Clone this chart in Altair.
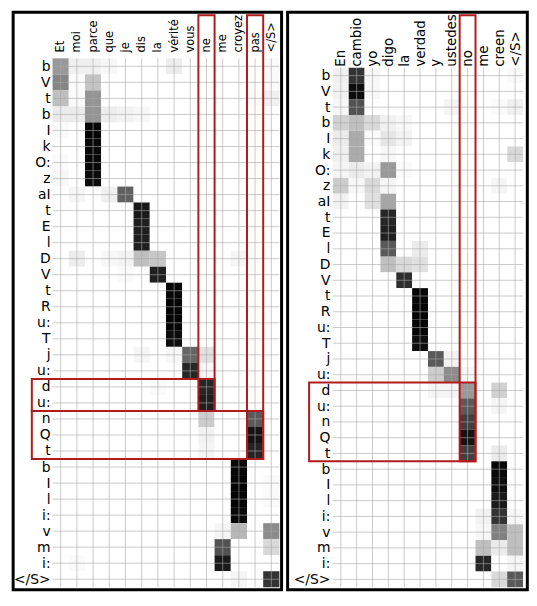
import altair as alt
import pandas as pd

# ---------------- data ----------------
fr_words = ["Et", "moi", "parce", "que", "je", "dis", "la", "vérité", "vous",
            "ne", "me", "croyez", "pas", "</S>"]
es_words = ["En", "cambio", "yo", "digo", "la", "verdad", "y", "ustedes",
            "no", "me", "creen", "</S>"]
phones = ["b", "V", "t", "b", "I", "k", "O:", "z", "aI", "t", "E", "l", "D",
          "V", "t", "R", "u:", "T", "j", "u:", "d", "u:", "n", "Q", "t", "b",
          "I", "l", "i:", "v", "m", "i:", "</S>"]

#            Et   moi  parce que  je   dis  la   vér  vous ne   me   croy pas  </S>
fr_attn = [
    [0.40, 0.06, 0.06, 0.03, 0.00, 0.00, 0.00, 0.07, 0.00, 0.00, 0.00, 0.00, 0.00, 0.02],
    [0.48, 0.02, 0.23, 0.00, 0.00, 0.00, 0.00, 0.00, 0.00, 0.00, 0.00, 0.00, 0.00, 0.02],
    [0.25, 0.02, 0.42, 0.00, 0.00, 0.00, 0.00, 0.00, 0.00, 0.00, 0.00, 0.00, 0.02, 0.06],
    [0.08, 0.08, 0.42, 0.07, 0.05, 0.03, 0.00, 0.00, 0.00, 0.00, 0.00, 0.00, 0.00, 0.00],
    [0.02, 0.00, 0.98, 0.00, 0.00, 0.00, 0.00, 0.00, 0.00, 0.00, 0.00, 0.00, 0.00, 0.00],
    [0.00, 0.00, 0.97, 0.00, 0.00, 0.00, 0.00, 0.00, 0.00, 0.00, 0.00, 0.00, 0.00, 0.00],
    [0.02, 0.00, 0.97, 0.00, 0.00, 0.00, 0.00, 0.00, 0.00, 0.00, 0.00, 0.00, 0.00, 0.00],
    [0.03, 0.00, 0.95, 0.00, 0.00, 0.00, 0.00, 0.00, 0.00, 0.00, 0.00, 0.00, 0.00, 0.00],
    [0.00, 0.04, 0.00, 0.06, 0.62, 0.00, 0.00, 0.00, 0.00, 0.00, 0.00, 0.00, 0.00, 0.00],
    [0.00, 0.00, 0.00, 0.00, 0.00, 0.90, 0.00, 0.00, 0.00, 0.00, 0.00, 0.00, 0.00, 0.00],
    [0.00, 0.00, 0.00, 0.00, 0.00, 0.88, 0.00, 0.00, 0.00, 0.00, 0.00, 0.00, 0.00, 0.00],
    [0.00, 0.00, 0.00, 0.00, 0.00, 0.88, 0.00, 0.00, 0.00, 0.00, 0.00, 0.00, 0.00, 0.00],
    [0.00, 0.07, 0.00, 0.03, 0.05, 0.25, 0.22, 0.00, 0.00, 0.00, 0.00, 0.04, 0.00, 0.00],
    [0.00, 0.00, 0.00, 0.00, 0.02, 0.00, 0.88, 0.00, 0.00, 0.00, 0.00, 0.00, 0.00, 0.00],
    [0.00, 0.00, 0.00, 0.00, 0.00, 0.00, 0.00, 0.97, 0.00, 0.00, 0.00, 0.00, 0.00, 0.00],
    [0.00, 0.00, 0.00, 0.00, 0.00, 0.00, 0.00, 0.98, 0.00, 0.00, 0.00, 0.00, 0.00, 0.00],
    [0.00, 0.00, 0.00, 0.00, 0.00, 0.00, 0.00, 0.98, 0.00, 0.00, 0.00, 0.00, 0.00, 0.00],
    [0.00, 0.00, 0.00, 0.00, 0.00, 0.00, 0.00, 0.95, 0.00, 0.00, 0.00, 0.00, 0.00, 0.00],
    [0.00, 0.00, 0.00, 0.00, 0.00, 0.04, 0.00, 0.03, 0.60, 0.12, 0.00, 0.00, 0.00, 0.00],
    [0.00, 0.00, 0.00, 0.00, 0.00, 0.00, 0.00, 0.00, 0.85, 0.03, 0.00, 0.00, 0.00, 0.00],
    [0.00, 0.00, 0.00, 0.00, 0.00, 0.00, 0.02, 0.00, 0.00, 0.85, 0.00, 0.00, 0.00, 0.00],
    [0.00, 0.00, 0.00, 0.00, 0.00, 0.00, 0.00, 0.00, 0.00, 0.88, 0.00, 0.00, 0.00, 0.00],
    [0.00, 0.00, 0.00, 0.00, 0.00, 0.00, 0.00, 0.00, 0.00, 0.20, 0.00, 0.00, 0.65, 0.00],
    [0.00, 0.00, 0.00, 0.00, 0.00, 0.00, 0.00, 0.00, 0.00, 0.05, 0.00, 0.00, 0.92, 0.00],
    [0.00, 0.00, 0.00, 0.00, 0.00, 0.00, 0.00, 0.00, 0.00, 0.04, 0.00, 0.00, 0.86, 0.00],
    [0.00, 0.00, 0.00, 0.00, 0.00, 0.00, 0.00, 0.00, 0.00, 0.00, 0.00, 0.97, 0.00, 0.00],
    [0.00, 0.00, 0.00, 0.00, 0.00, 0.00, 0.00, 0.00, 0.00, 0.00, 0.00, 0.98, 0.00, 0.02],
    [0.00, 0.00, 0.00, 0.00, 0.00, 0.00, 0.00, 0.00, 0.00, 0.00, 0.00, 0.98, 0.00, 0.02],
    [0.00, 0.00, 0.00, 0.00, 0.00, 0.00, 0.00, 0.00, 0.00, 0.00, 0.00, 0.97, 0.00, 0.00],
    [0.00, 0.00, 0.00, 0.00, 0.00, 0.00, 0.00, 0.00, 0.00, 0.00, 0.04, 0.28, 0.00, 0.45],
    [0.00, 0.00, 0.00, 0.00, 0.00, 0.00, 0.00, 0.00, 0.00, 0.00, 0.68, 0.00, 0.00, 0.15],
    [0.00, 0.02, 0.00, 0.00, 0.00, 0.00, 0.00, 0.00, 0.00, 0.00, 0.90, 0.00, 0.00, 0.00],
    [0.00, 0.00, 0.00, 0.00, 0.00, 0.00, 0.00, 0.00, 0.00, 0.00, 0.00, 0.04, 0.00, 0.80],
]

#            En   camb yo   digo la   verd y    uste no   me   cree </S>
es_attn = [
    [0.06, 0.80, 0.03, 0.00, 0.00, 0.00, 0.00, 0.00, 0.00, 0.00, 0.00, 0.02],
    [0.05, 0.95, 0.03, 0.00, 0.00, 0.00, 0.00, 0.00, 0.00, 0.00, 0.00, 0.00],
    [0.03, 0.68, 0.00, 0.00, 0.00, 0.00, 0.00, 0.04, 0.00, 0.00, 0.02, 0.06],
    [0.18, 0.25, 0.15, 0.06, 0.03, 0.00, 0.00, 0.00, 0.00, 0.00, 0.00, 0.00],
    [0.08, 0.33, 0.02, 0.10, 0.05, 0.00, 0.00, 0.00, 0.00, 0.00, 0.00, 0.00],
    [0.06, 0.33, 0.00, 0.03, 0.00, 0.00, 0.00, 0.00, 0.00, 0.00, 0.00, 0.15],
    [0.04, 0.08, 0.05, 0.40, 0.02, 0.00, 0.00, 0.00, 0.00, 0.00, 0.00, 0.00],
    [0.20, 0.03, 0.15, 0.04, 0.00, 0.00, 0.00, 0.00, 0.00, 0.00, 0.04, 0.00],
    [0.05, 0.00, 0.12, 0.35, 0.00, 0.00, 0.00, 0.00, 0.00, 0.00, 0.00, 0.00],
    [0.00, 0.00, 0.00, 0.85, 0.00, 0.00, 0.00, 0.00, 0.00, 0.00, 0.00, 0.00],
    [0.00, 0.00, 0.00, 0.88, 0.00, 0.00, 0.00, 0.00, 0.00, 0.00, 0.00, 0.00],
    [0.00, 0.00, 0.00, 0.65, 0.00, 0.08, 0.00, 0.00, 0.00, 0.00, 0.00, 0.00],
    [0.00, 0.00, 0.00, 0.25, 0.15, 0.12, 0.00, 0.00, 0.00, 0.00, 0.00, 0.00],
    [0.00, 0.00, 0.00, 0.00, 0.82, 0.00, 0.00, 0.00, 0.00, 0.00, 0.00, 0.00],
    [0.00, 0.00, 0.00, 0.00, 0.00, 0.97, 0.00, 0.00, 0.00, 0.00, 0.00, 0.00],
    [0.00, 0.00, 0.00, 0.00, 0.00, 0.98, 0.00, 0.00, 0.00, 0.00, 0.00, 0.00],
    [0.00, 0.00, 0.00, 0.00, 0.00, 0.98, 0.00, 0.00, 0.00, 0.00, 0.00, 0.00],
    [0.00, 0.00, 0.00, 0.00, 0.00, 0.95, 0.00, 0.00, 0.00, 0.00, 0.00, 0.00],
    [0.00, 0.00, 0.00, 0.00, 0.00, 0.00, 0.65, 0.05, 0.00, 0.00, 0.00, 0.00],
    [0.00, 0.00, 0.00, 0.00, 0.00, 0.00, 0.20, 0.45, 0.03, 0.00, 0.00, 0.00],
    [0.00, 0.00, 0.00, 0.00, 0.00, 0.00, 0.04, 0.04, 0.40, 0.00, 0.18, 0.00],
    [0.00, 0.00, 0.00, 0.00, 0.00, 0.00, 0.00, 0.00, 0.65, 0.00, 0.04, 0.00],
    [0.00, 0.00, 0.00, 0.00, 0.00, 0.00, 0.00, 0.00, 0.75, 0.00, 0.00, 0.00],
    [0.00, 0.00, 0.00, 0.00, 0.00, 0.00, 0.00, 0.00, 0.92, 0.00, 0.00, 0.00],
    [0.00, 0.00, 0.00, 0.00, 0.00, 0.00, 0.00, 0.00, 0.75, 0.00, 0.08, 0.00],
    [0.00, 0.00, 0.00, 0.00, 0.00, 0.00, 0.00, 0.00, 0.00, 0.00, 0.97, 0.00],
    [0.00, 0.00, 0.00, 0.00, 0.00, 0.00, 0.00, 0.00, 0.00, 0.00, 0.95, 0.00],
    [0.00, 0.00, 0.00, 0.00, 0.00, 0.00, 0.00, 0.00, 0.00, 0.00, 0.90, 0.00],
    [0.00, 0.00, 0.00, 0.00, 0.00, 0.00, 0.00, 0.00, 0.00, 0.05, 0.80, 0.03],
    [0.00, 0.00, 0.00, 0.00, 0.00, 0.00, 0.00, 0.00, 0.00, 0.03, 0.50, 0.25],
    [0.00, 0.00, 0.00, 0.00, 0.00, 0.00, 0.00, 0.00, 0.00, 0.25, 0.08, 0.25],
    [0.00, 0.00, 0.00, 0.00, 0.00, 0.00, 0.00, 0.00, 0.00, 0.85, 0.00, 0.04],
    [0.00, 0.00, 0.00, 0.00, 0.00, 0.00, 0.00, 0.00, 0.00, 0.00, 0.15, 0.65],
]

# highlight boxes, in cell units: (x1, x2, y1, y2)
fr_boxes = [(8.5, 9.5, -3.19, 21.5), (-1.78, 9.5, 19.5, 21.5),
            (11.5, 12.5, -3.19, 24.5), (-1.78, 12.5, 21.5, 24.5)]
es_boxes = [(7.5, 8.5, -3.83, 24.5), (-2.0, 8.5, 19.5, 24.5)]

RED = "#b21b1b"
GRID = "#a8a8a8"


def cells(matrix):
    recs = []
    for r, row in enumerate(matrix):
        for c, v in enumerate(row):
            recs.append({"row": r, "col": c, "w": v})
    return pd.DataFrame(recs)


def js_list(items):
    return "[" + ",".join("'" + s + "'" for s in items) + "]"


def panel(matrix, words, boxes, W, H, y_top, xfont, xpad, xoffset, ypad, frame):
    n, m = len(words), len(phones)
    xs = alt.Scale(domain=[-0.5, n - 0.5], nice=False, zero=False)
    ys = alt.Scale(domain=[y_top, m - 0.5], nice=False, zero=False, reverse=True)
    xaxis = alt.Axis(orient="top", values=list(range(n)),
                     labelExpr=js_list(words) + "[datum.value]",
                     labelAngle=270, labelFontSize=xfont, labelPadding=xpad,
                     offset=xoffset,
                     labelFont="DejaVu Sans", labelColor="black",
                     labelOverlap=False, labelFlush=False,
                     ticks=False, domain=False, grid=False, title=None)
    yaxis = alt.Axis(orient="left", values=list(range(m)),
                     labelExpr=js_list(phones) + "[datum.value]",
                     labelFontSize=14, labelPadding=ypad,
                     labelFont="DejaVu Sans", labelColor="black",
                     labelOverlap=False, labelFlush=False,
                     ticks=False, domain=False, grid=False, title=None)

    heat = alt.Chart(cells(matrix)).transform_calculate(
        x1="datum.col - 0.5", x2="datum.col + 0.5",
        y1="datum.row - 0.5", y2="datum.row + 0.5",
    ).mark_rect().encode(
        x=alt.X("x1:Q", scale=xs, axis=xaxis),
        x2="x2:Q",
        y=alt.Y("y1:Q", scale=ys, axis=yaxis),
        y2="y2:Q",
        color=alt.Color("w:Q", scale=alt.Scale(domain=[0, 1],
                                               range=["#ffffff", "#000000"],
                                               interpolate="rgb"),
                        legend=None),
    )

    # grid lines through cell centres, spanning only the cell block
    vdf = pd.DataFrame({"gx": list(range(n))})
    vdf["a"] = -0.5
    vdf["b"] = m - 0.5
    vgrid = alt.Chart(vdf).mark_rule(color=GRID, strokeWidth=1, opacity=0.6).encode(
        x=alt.X("gx:Q", scale=xs, axis=xaxis),
        y=alt.Y("a:Q", scale=ys, axis=yaxis), y2="b:Q",
    )
    hdf = pd.DataFrame({"gy": list(range(m))})
    hdf["a"] = -0.5
    hdf["b"] = n - 0.5
    hgrid = alt.Chart(hdf).mark_rule(color=GRID, strokeWidth=1, opacity=0.6).encode(
        y=alt.Y("gy:Q", scale=ys, axis=yaxis),
        x=alt.X("a:Q", scale=xs, axis=xaxis), x2="b:Q",
    )

    bdf = pd.DataFrame(boxes, columns=["bx1", "bx2", "by1", "by2"])
    hl = alt.Chart(bdf).mark_rect(fillOpacity=0, stroke=RED, strokeWidth=2,
                                  clip=False).encode(
        x=alt.X("bx1:Q", scale=xs, axis=xaxis), x2="bx2:Q",
        y=alt.Y("by1:Q", scale=ys, axis=yaxis), y2="by2:Q",
    )

    fx1, fx2, fy1, fy2 = frame
    border = alt.Chart(pd.DataFrame({"k": [0]})).mark_rect(
        fillOpacity=0, stroke="black", strokeWidth=3, clip=False).encode(
        x=alt.value(fx1), x2=alt.value(W + fx2),
        y=alt.value(fy1), y2=alt.value(H + fy2),
    )
    return alt.layer(heat, vgrid, hgrid, hl, border).properties(width=W, height=H)


H = 534
left = panel(fr_attn, fr_words, fr_boxes, 229, H, -0.5, 11.5, 6.5, 0, 2.5,
             (-39.8, 2.2, -46.5, 2.5))
right = panel(es_attn, es_words, es_boxes, 192, H, -1.098, 13.5, 0.5, -8.5, 3,
              (-45.7, 4.3, -46.5, 2.5))

chart = alt.hconcat(left, right, spacing=2).configure_view(
    stroke=None
).properties(padding={"left": 3, "top": 0, "right": 0, "bottom": 0},
             background="white")

chart.save("out.html", embed_options={"renderer": "svg", "actions": False})
